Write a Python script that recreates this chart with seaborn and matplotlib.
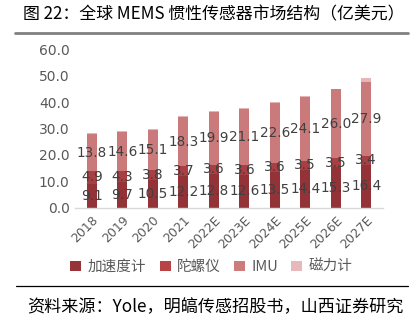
import matplotlib
matplotlib.use("Agg")
import matplotlib.pyplot as plt
import seaborn as sns
import numpy as np
import pandas as pd
from matplotlib.patches import Patch
from matplotlib.lines import Line2D

years = ["2018", "2019", "2020", "2021", "2022E", "2023E", "2024E", "2025E", "2026E", "2027E"]
accel = [9.1, 9.7, 10.5, 12.2, 12.8, 12.6, 13.5, 14.4, 15.3, 16.4]
gyro = [4.9, 4.3, 3.8, 3.7, 3.6, 3.6, 3.6, 3.5, 3.5, 3.4]
imu = [13.8, 14.6, 15.1, 18.3, 19.9, 21.1, 22.6, 24.1, 26.0, 27.9]
magnet = [0.4, 0.3, 0.3, 0.5, 0.3, 0.3, 0.3, 0.3, 0.2, 1.4]
series_names = ["加速度计", "陀螺仪", "IMU", "磁力计"]
colors = ["#943337", "#A93F42", "#CB7A7C", "#E5B6B7"]
legend_colors = ["#983437", "#B84446", "#CD7B7D", "#E8B9BA"]
yticks = [0, 10, 20, 30, 40, 50, 60]

sns.set_theme(style="white")
plt.rcParams['font.family'] = ['Noto Sans CJK SC', 'DejaVu Sans']

fig = plt.figure(figsize=(4.15, 3.27), dpi=100)
ax = fig.add_axes([0.181, 0.364, 0.742, 0.486])

series = [accel, gyro, imu, magnet]
bottom = np.zeros(len(years))
for vals, name, col in zip(series, series_names, colors):
    sns.barplot(x=years, y=vals, bottom=bottom, color=col, width=0.33, ax=ax,
                saturation=1, linewidth=0)
    if name != "磁力计":
        for i, v in enumerate(vals):
            ax.text(i, bottom[i] + v / 2, f"{v:.1f}", ha="center", va="center",
                    fontsize=9.8, color="#404040", family=['DejaVu Sans'])
    bottom = bottom + np.array(vals)

ax.set_ylim(0, 60)
ax.set_xlim(-0.55, 9.55)
ax.set_yticks(yticks)
ax.set_yticklabels([f"{t:.1f}" for t in yticks], fontsize=10, color="#595959",
                   family=['DejaVu Sans'])
ax.set_xticks(range(len(years)))
ax.set_xticklabels(years, rotation=45, ha="right", rotation_mode="anchor",
                   fontsize=9, color="#595959", family=['DejaVu Sans'])
ax.tick_params(axis='both', length=0, pad=4)
for s in ["top", "right", "left"]:
    ax.spines[s].set_visible(False)
ax.spines["bottom"].set_color("#D9D9D9")
ax.spines["bottom"].set_linewidth(1)
ax.set_xlabel("")
ax.set_ylabel("")

handles = [Patch(facecolor=c, edgecolor='none') for c in legend_colors]
fig.legend(handles, series_names, loc="center", bbox_to_anchor=(0.51, 0.183), ncol=4,
           frameon=False, fontsize=10.5, handlelength=0.75, handleheight=0.75,
           handletextpad=0.45, columnspacing=0.9, labelcolor="#595959")

fig.text(0.055, 0.955, "图 22：全球 MEMS 惯性传感器市场结构（亿美元）", fontsize=12.2,
         ha="left", va="center", color="#000000")
fig.add_artist(Line2D([0.035, 0.983], [0.899, 0.899], color="#808080", linewidth=2))
fig.add_artist(Line2D([0.038, 0.983], [0.125, 0.125], color="#000000", linewidth=0.9))
fig.text(0.065, 0.061, "资料来源：Yole，明皜传感招股书，山西证券研究", fontsize=12.3,
         ha="left", va="center", color="#000000")

fig.savefig("out.png", dpi=100)
